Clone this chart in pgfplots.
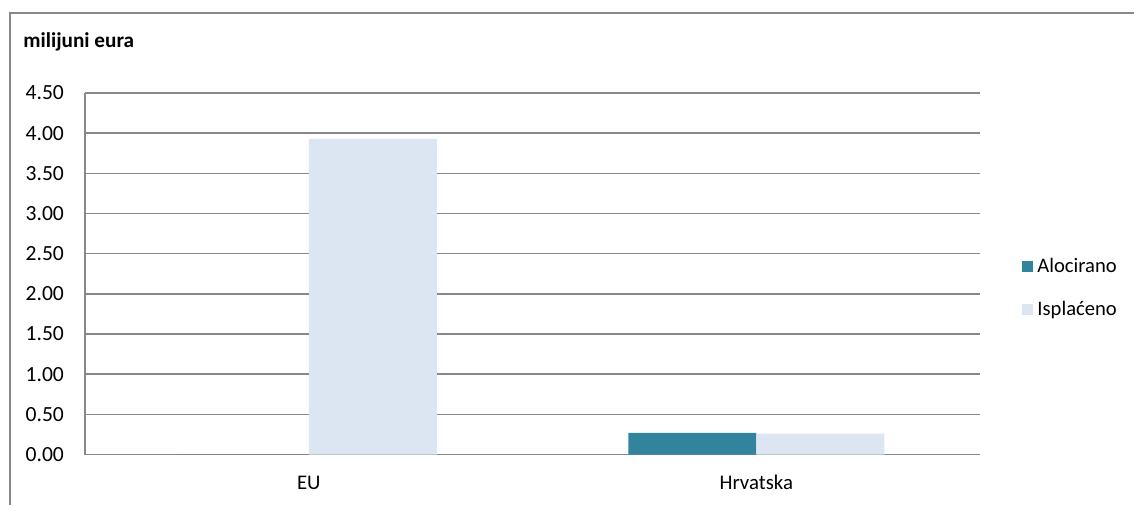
\documentclass[border=0pt]{standalone}
\usepackage{fontspec}
\setmainfont{Carlito}
\usepackage{pgfplots}
\pgfplotsset{compat=1.18}
\definecolor{aloc}{HTML}{31849B}
\definecolor{ispl}{HTML}{DCE6F2}
\definecolor{gridgray}{HTML}{888888}
\begin{document}
\fontsize{10}{12}\selectfont
\begin{tikzpicture}
% scale: 1 px of the reference = 0.5 pt
\path[use as bounding box] (0,0) rectangle (567pt,252.5pt);
\draw[gridgray, line width=0.6pt] (5pt,0) -- (5pt,246pt) -- (567pt,246pt);
\node[anchor=west, inner sep=0pt, font=\fontsize{10.6}{12}\selectfont\bfseries] at (11.5pt,231.5pt) {milijuni eura};
\begin{axis}[
    at={(42.5pt,25.25pt)}, anchor=south west,
    scale only axis, width=447.5pt, height=180.75pt,
    ybar=0pt, bar width=64pt,
    xmin=-0.5, xmax=1.5, enlarge x limits=false,
    ymin=0, ymax=4.5,
    xtick={0,1}, xticklabels={EU,Hrvatska},
    ytick={0,0.5,1,1.5,2,2.5,3,3.5,4,4.5},
    /pgf/number format/fixed,
    /pgf/number format/fixed zerofill,
    /pgf/number format/precision=2,
    /pgf/number format/assume math mode=true,
    yticklabel style={xshift=-7pt, font=\fontsize{10.8}{12}\selectfont},
    xticklabel style={yshift=-6.5pt, text height=1.6ex, text depth=0.3ex, font=\fontsize{10.4}{12}\selectfont},
    major tick length=0pt,
    ymajorgrids, grid style={gridgray, line width=0.8pt},
    axis x line=bottom, axis y line=left,
    axis line style={-, gridgray, line width=0.8pt},
    legend style={at={(1.047,0.4606)}, anchor=west, draw=none, fill=none,
      inner sep=0pt, row sep=9pt, font=\fontsize{10.3}{12}\selectfont},
    legend cell align=left,
    legend image code/.code={\fill[#1] (0pt,-2.75pt) rectangle (5.5pt,2.75pt);},
  ]
  \addplot[fill=aloc, draw=none] coordinates {(0,0) (1,0.27)};
  \addplot[fill=ispl, draw=none] coordinates {(0,3.93) (1,0.26)};
  \legend{Alocirano, Isplaćeno}
\end{axis}
\end{tikzpicture}
\end{document}
